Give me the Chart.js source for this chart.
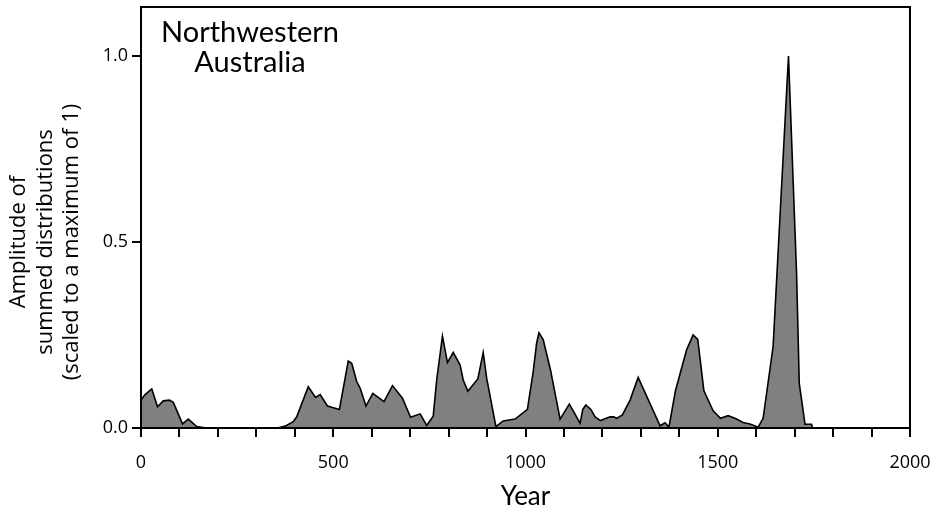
<!DOCTYPE html>
<html>
<head>
<meta charset="utf-8">
<script src="https://cdn.jsdelivr.net/npm/chart.js@4"></script>
<style>
  html, body { margin: 0; padding: 0; background: #fff; }
  #wrap { width: 934px; height: 512px; }
</style>
</head>
<body>
<div id="wrap"><canvas id="amp-chart"></canvas></div>
<script>
const years = [0, 10, 28, 43, 58, 74, 84, 108, 123, 145, 170, 355, 375, 396, 405, 435, 454, 466, 485, 516,
  539, 548, 561, 570, 585, 603, 632, 654, 680, 701, 726, 743, 760, 769, 784, 797, 812, 830, 838, 850,
  876, 890, 899, 923, 942, 973, 1005, 1020, 1029, 1035, 1046, 1065, 1090, 1114, 1142, 1149, 1157, 1170,
  1181, 1195, 1220, 1229, 1237, 1252, 1272, 1293, 1350, 1363, 1373, 1390, 1419, 1436, 1448, 1464, 1488,
  1507, 1527, 1549, 1566, 1584, 1605, 1618, 1644, 1684, 1705, 1712, 1727, 1744, 1746, 2000]
const amplitude = [0.075, 0.089, 0.105, 0.057, 0.073, 0.075, 0.069, 0.011, 0.024, 0.004, 0, 0, 0.005, 0.017, 0.03, 0.111, 0.082, 0.09, 0.059, 0.05,
  0.18, 0.174, 0.125, 0.107, 0.059, 0.093, 0.071, 0.114, 0.08, 0.029, 0.038, 0.007, 0.032, 0.129, 0.247, 0.176, 0.203, 0.169, 0.129, 0.099,
  0.132, 0.203, 0.134, 0.004, 0.019, 0.024, 0.05, 0.151, 0.229, 0.256, 0.238, 0.156, 0.024, 0.064, 0.013, 0.05, 0.062, 0.05,
  0.03, 0.02, 0.03, 0.03, 0.026, 0.035, 0.075, 0.136, 0.006, 0.014, 0.002, 0.1, 0.21, 0.25, 0.238, 0.1, 0.046,
  0.026, 0.033, 0.024, 0.015, 0.011, 0.002, 0.026, 0.219, 1.0, 0.416, 0.12, 0.01, 0.01, 0, 0]
const yTicks = [0, 0.5, 1.0]
const xLabelStep = 500
const panelLabel = ['Northwestern', 'Australia']
const yTitle = ['Amplitude of', 'summed distributions', '(scaled to a maximum of 1)']

const points = years.map((yr, i) => ({ x: yr, y: amplitude[i] }))

// box around the plot + rotated y title + panel label
const extras = {
  id: 'extras',
  afterDraw(chart) {
    const { ctx, chartArea: a } = chart
    ctx.save()
    ctx.strokeStyle = '#000'
    ctx.lineWidth = 2
    ctx.strokeRect(a.left, a.top, a.right - a.left, a.bottom - a.top)

    ctx.fillStyle = '#000'
    ctx.textAlign = 'center'
    ctx.textBaseline = 'middle'
    ctx.font = '29px Lato'
    ctx.fillText(panelLabel[0], 250, 33)
    ctx.fillText(panelLabel[1], 250, 63)

    ctx.font = '22px "Open Sans"'
    const cx = [19, 46, 72]
    yTitle.forEach((t, i) => {
      ctx.save()
      ctx.translate(cx[i], 242)
      ctx.rotate(-Math.PI / 2)
      ctx.fillText(t, 0, 0)
      ctx.restore()
    })
    ctx.restore()
  }
}

new Chart(document.getElementById('amp-chart'), {
  type: 'line',
  data: {
    datasets: [{
      data: points,
      borderColor: '#000',
      borderWidth: 1.6,
      backgroundColor: '#808080',
      fill: 'origin',
      tension: 0,
      pointRadius: 0
    }]
  },
  options: {
    responsive: true,
    maintainAspectRatio: false,
    animation: false,
    layout: { padding: { top: 7, right: 24, left: 0, bottom: 0 } },
    plugins: { legend: { display: false }, tooltip: { enabled: false } },
    scales: {
      x: {
        type: 'linear',
        min: 0,
        max: 2000,
        afterFit(scale) {
          scale.height = 84
          scale.paddingLeft = 0
          scale.paddingRight = 0
        },
        ticks: {
          stepSize: 100,
          autoSkip: false,
          maxRotation: 0,
          padding: 15,
          color: '#000',
          font: { family: 'Open Sans', size: 18 },
          callback: v => (v % xLabelStep === 0 ? v : '')
        },
        grid: { drawOnChartArea: false, color: '#000', lineWidth: 2, tickLength: 9 },
        border: { color: '#000', width: 2 },
        title: {
          display: true,
          text: 'Year',
          color: '#000',
          font: { family: 'Lato', size: 26 },
          padding: { top: 0, bottom: 0 }
        }
      },
      y: {
        min: 0,
        max: 1.1317,
        afterFit(scale) {
          scale.width = 141
          scale.paddingTop = 0
          scale.paddingBottom = 0
        },
        afterBuildTicks(scale) { scale.ticks = yTicks.map(v => ({ value: v })) },
        ticks: {
          padding: 4,
          color: '#000',
          font: { family: 'Open Sans', size: 18 },
          callback: v => v.toFixed(1)
        },
        grid: { drawOnChartArea: false, color: '#000', lineWidth: 2, tickLength: 9 },
        border: { color: '#000', width: 2 }
      }
    }
  },
  plugins: [extras]
})
</script>
</body>
</html>
